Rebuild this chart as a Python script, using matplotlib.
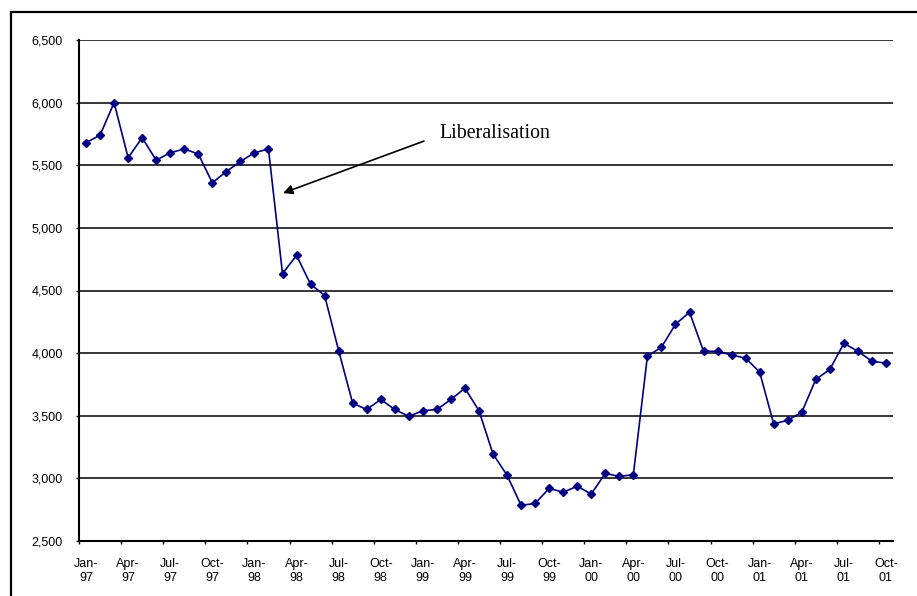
import matplotlib
matplotlib.use("Agg")
import matplotlib.pyplot as plt
from matplotlib.patches import Rectangle
from matplotlib.ticker import FuncFormatter, FixedLocator

months = ["Jan", "Feb", "Mar", "Apr", "May", "Jun", "Jul", "Aug", "Sep", "Oct", "Nov", "Dec"]
years = ["97", "98", "99", "00", "01"]
categories = [f"{m}-{y}" for y in years for m in months][:58]

values = [
    5680, 5740, 6000, 5560, 5720, 5540, 5600, 5630, 5590, 5360, 5450, 5530,
    5600, 5630, 4635, 4780, 4550, 4460, 4020, 3600, 3550, 3630, 3550, 3495,
    3540, 3550, 3630, 3720, 3540, 3195, 3025, 2785, 2800, 2920, 2890, 2937,
    2875, 3040, 3015, 3030, 3975, 4047, 4230, 4327, 4015, 4015, 3985, 3960,
    3848, 3435, 3464, 3528, 3790, 3870, 4078, 4015, 3935, 3920,
]

tick_labels = [c.replace("-", "-\n") for c in categories[::3]]
y_ticks = [2500, 3000, 3500, 4000, 4500, 5000, 5500, 6000, 6500]
annotation_text = "Liberalisation"

W, H = 917, 596
fig = plt.figure(figsize=(W / 100, H / 100), dpi=100)
fig.patch.set_facecolor("white")

# outer chart-area frame
fig.add_artist(Rectangle((11 / W, -0.1), 1.2, 1 - 12 / H + 0.1, transform=fig.transFigure,
                         fill=False, edgecolor="black", linewidth=1.6, zorder=0))

ax = fig.add_axes([79 / W, 1 - 541 / H, (893 - 79) / W, (541 - 40) / H])
x = list(range(len(values)))
ax.plot(x, values, color="#000080", linewidth=1.2, marker="D", markersize=4.2,
        markerfacecolor="#000080", markeredgecolor="#000080", zorder=3)

ax.set_xlim(-0.5, len(values) - 0.5)
ax.set_ylim(2500, 6500)
ax.set_yticks(y_ticks)
ax.yaxis.set_major_formatter(FuncFormatter(lambda v, p: f"{int(v):,}"))
ax.grid(axis="y", color="black", linewidth=1.1, zorder=1)
ax.set_axisbelow(True)

ax.xaxis.set_major_locator(FixedLocator([i - 0.5 for i in range(0, 58, 3)]))
ax.xaxis.set_major_formatter(FuncFormatter(lambda v, p: ""))
ax.set_xticks(list(range(0, 58, 3)), minor=True)
ax.set_xticklabels(tick_labels, minor=True, fontsize=9, family="Liberation Sans",
                   linespacing=1.2)
ax.tick_params(axis="x", which="major", direction="out", length=2.2, width=1)
ax.tick_params(axis="x", which="minor", length=0, pad=12.5)
ax.tick_params(axis="y", direction="out", length=2.2, width=1, labelsize=9, pad=9.4)
for lab in ax.get_yticklabels():
    lab.set_family("Liberation Sans")

for s in ["top", "right"]:
    ax.spines[s].set_visible(False)
for s in ["left", "bottom"]:
    ax.spines[s].set_linewidth(1.5)
    ax.spines[s].set_color("black")

# annotation text and arrow
ax.text(25.2, 5750, annotation_text, fontsize=14.3, family="Liberation Serif",
        ha="left", va="center")
ax.annotate("", xy=(14.04, 5278), xytext=(24.08, 5693), textcoords="data",
            arrowprops=dict(arrowstyle="-|>", color="black", lw=1.2,
                            mutation_scale=14, shrinkA=0, shrinkB=0))

fig.savefig("out.png", dpi=100)
